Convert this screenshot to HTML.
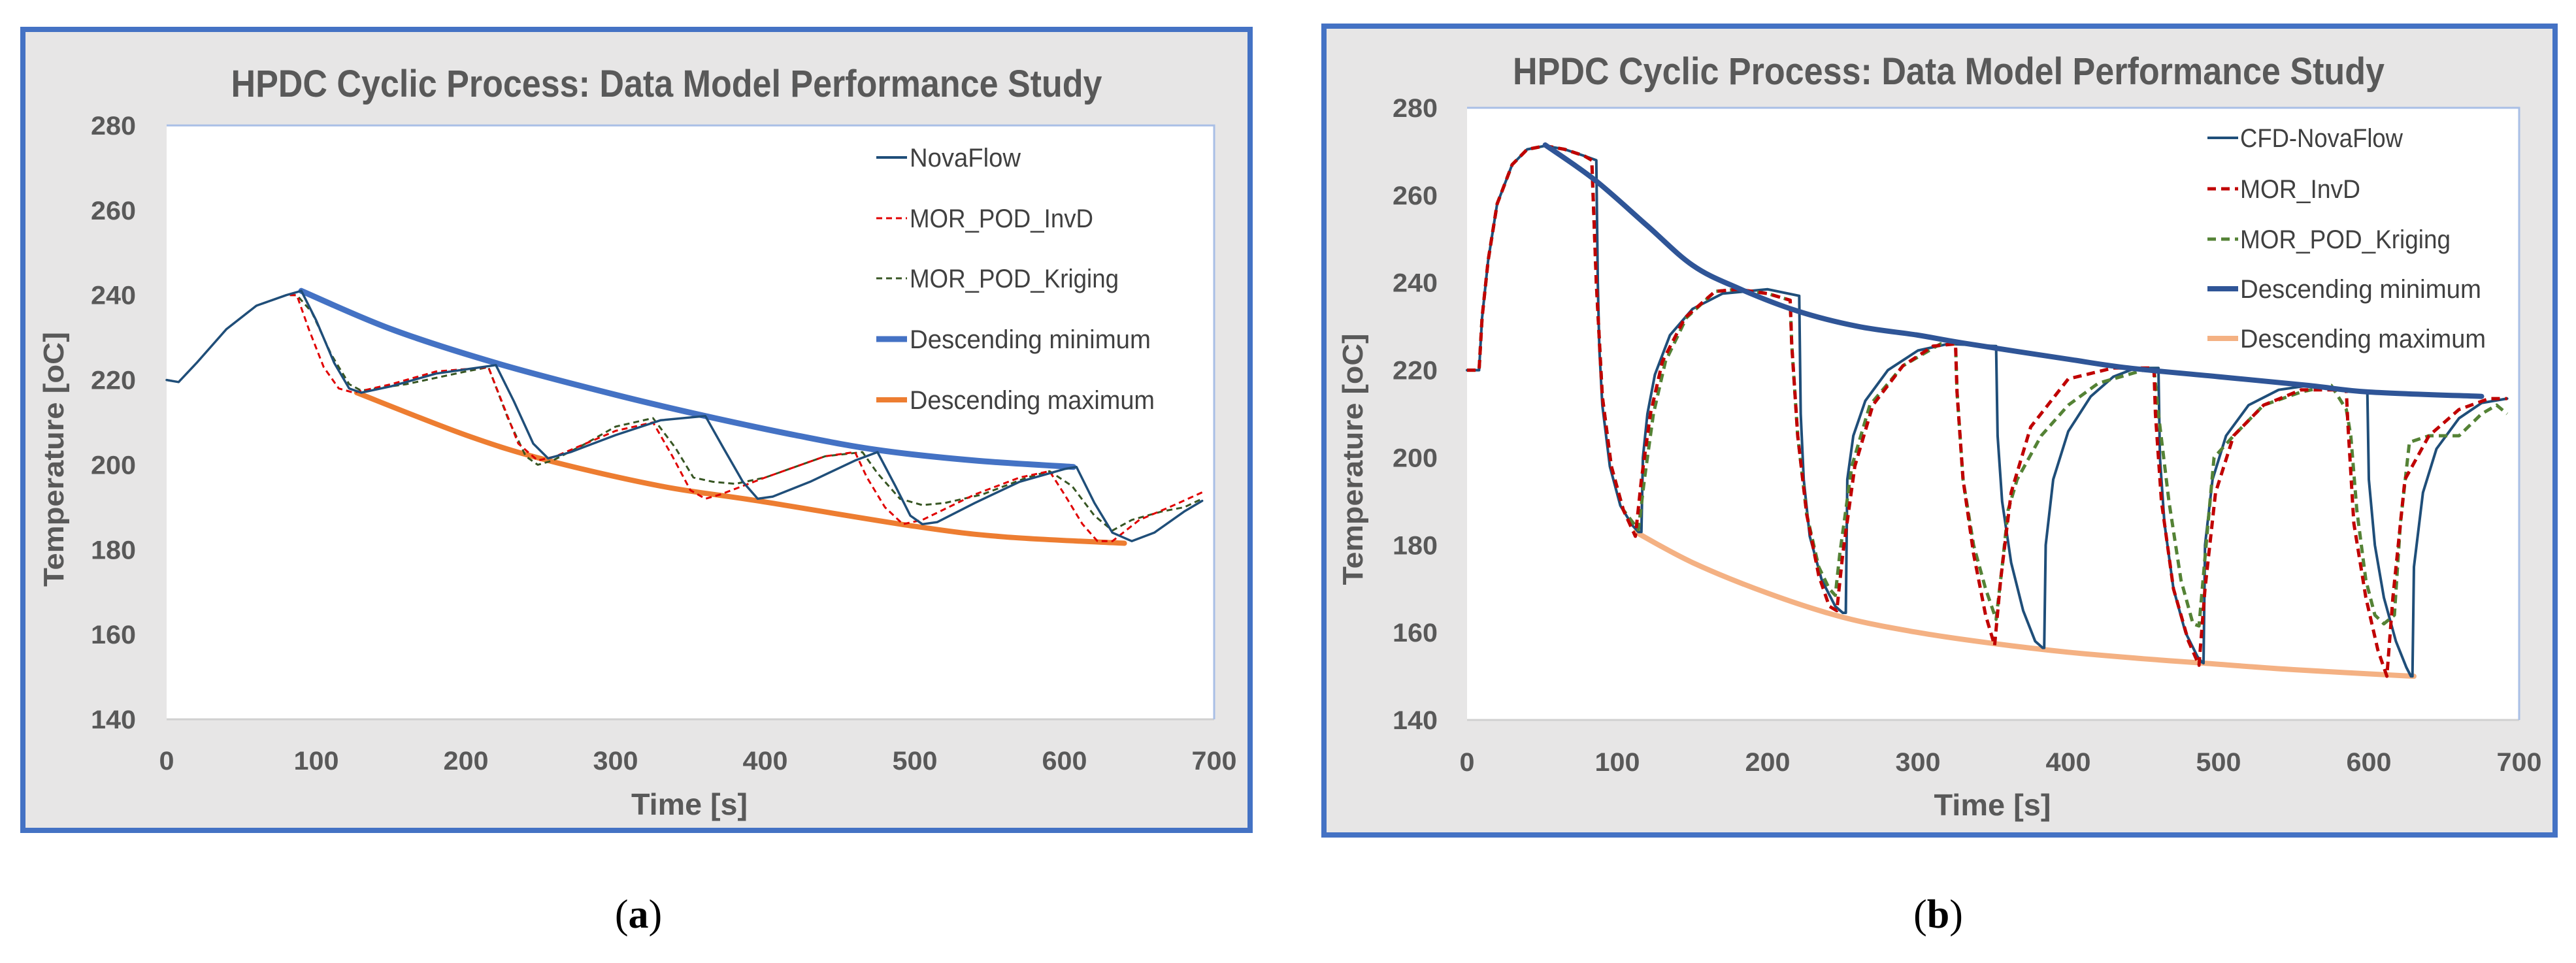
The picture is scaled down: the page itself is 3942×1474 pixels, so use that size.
<!DOCTYPE html>
<html><head><meta charset="utf-8"><style>
html,body{margin:0;padding:0;background:#fff;}
svg{display:block;font-family:"Liberation Sans",sans-serif;}
</style></head><body>
<svg id="root" width="3942" height="1474" viewBox="0 0 3942 1474" xmlns="http://www.w3.org/2000/svg">
<g id="chartA">
  <rect x="35" y="45" width="1878" height="1226" fill="#e7e6e6" stroke="#4472c4" stroke-width="8"/>
  <rect x="255" y="192" width="1603" height="909" fill="#fff"/>
  <path d="M255 1101 H1858" stroke="#d0d0d0" stroke-width="3" fill="none"/>
  <path d="M255 192 H1858 V1101" stroke="#a9bfe6" stroke-width="3" fill="none"/>
  <text x="1020" y="148" text-anchor="middle" font-size="58" font-weight="bold" fill="#595959" textLength="1333" lengthAdjust="spacingAndGlyphs">HPDC Cyclic Process: Data Model Performance Study</text>
  <text transform="translate(97,703) rotate(-90)" text-anchor="middle" font-size="44" font-weight="bold" fill="#595959" textLength="390" lengthAdjust="spacingAndGlyphs">Temperature [oC]</text>
  <text x="1055" y="1247" text-anchor="middle" font-size="46" font-weight="bold" fill="#595959" textLength="178" lengthAdjust="spacingAndGlyphs">Time [s]</text>
  <text x="977" y="1420" text-anchor="middle" font-size="62" fill="#000" font-family="Liberation Serif, serif">(<tspan font-weight="bold">a</tspan>)</text>
</g>
<g id="chartB">
  <rect x="2026" y="40" width="1884" height="1238" fill="#e7e6e6" stroke="#4472c4" stroke-width="8"/>
  <rect x="2245" y="165" width="1610" height="937" fill="#fff"/>
  <path d="M2245 1102 H3855" stroke="#d0d0d0" stroke-width="3" fill="none"/>
  <path d="M2245 165 H3855 V1102" stroke="#a9bfe6" stroke-width="3" fill="none"/>
  <text x="2982" y="129" text-anchor="middle" font-size="58" font-weight="bold" fill="#595959" textLength="1334" lengthAdjust="spacingAndGlyphs">HPDC Cyclic Process: Data Model Performance Study</text>
  <text transform="translate(2085,703) rotate(-90)" text-anchor="middle" font-size="44" font-weight="bold" fill="#595959" textLength="385" lengthAdjust="spacingAndGlyphs">Temperature [oC]</text>
  <text x="3049" y="1248" text-anchor="middle" font-size="46" font-weight="bold" fill="#595959" textLength="179" lengthAdjust="spacingAndGlyphs">Time [s]</text>
  <text x="2966" y="1420" text-anchor="middle" font-size="62" fill="#000" font-family="Liberation Serif, serif">(<tspan font-weight="bold">b</tspan>)</text>
</g>
</svg>
<script>
const xTicks = [0,100,200,300,400,500,600,700];
const yTicks = [140,160,180,200,220,240,260,280];

// Chart (a) data
const aNovaT = [0,8,20,40,60,80,90,100,112,122,130,150,180,210,220,232,245,255,270,300,330,360,372,385,395,405,430,460,475,487,497,505,515,540,570,600,608,620,632,645,660,680,692];
const aNovaV = [220,219.5,224,232,237.5,240,241,234,224,218,217,218.5,221.5,223,223.5,215,205,201.5,203,207,210.5,211.5,204,196,192,192.5,196,201,203,195,188,186,186.5,191,196,199,199.5,191,184,182,184,189,191.5];
const aInvT = [0,8,20,40,60,80,87,95,105,115,125,150,180,215,225,235,248,260,300,325,338,350,360,370,400,440,460,468,480,492,505,540,570,590,600,612,622,632,650,670,692];
const aInvV = [220,219.5,224,232,237.5,240,240,232,223,218,217,219,222,223,214,205,201,202,208,210,202,194,192,193,197,202,203,197,190,186,187,193,197,198.5,193,186,182,182,187,190,193.5];
const aKrgT = [0,8,20,40,60,80,87,97,110,122,130,160,200,215,228,240,248,258,280,300,325,340,352,365,380,400,440,465,475,490,505,520,545,575,590,605,620,632,645,665,680,692];
const aKrgV = [220,219.5,224,232,237.5,240,240,236,226,219,217.5,219,222,223,211,202,200,201,205,209,211,204,197,196,195.5,197,202,203,198,192,190.5,191,193,197,198.5,195,188,184.5,187,189,190,192];
const aMinT = [90,150,220,300,360,420,475,540,606];
const aMinV = [241,232,224,216.5,211.5,207,203.5,201,199.5];
const aMaxT = [127,200,255,330,395,500,560,640];
const aMaxV = [217,207,201,195,191.5,185.5,183,181.5];

// Chart (b) data
const bNovaT = [0,8,10,14,20,30,40,52,65,78,86,87,88,90,95,102,110,114,116,117,120,125,135,150,170,200,221,222,224,228,236,245,250,252,253,257,265,280,300,320,352,353,356,362,370,378,383,384,385,390,400,415,430,445,460,461,464,470,478,486,489,490,491,496,505,520,540,560,599,600,604,610,618,625,628,629,630,636,645,660,675,692];
const bNovaV = [220,220,232,245,258,267,270.5,271.3,270.5,269,268,240,225,212,198,189,184.5,183,183,200,210,219,228,234,237.5,238.5,237,210,195,182,172,166,164.5,164.5,195,205,213,220,224.5,226,225.5,205,190,176,165,158,156.5,156.5,180,195,206,214,218.5,220.5,220.5,200,185,170,160,154.5,153.2,153,180,195,205,212,215.5,216.5,215,195,180,168,158,152,150,150,175,192,202,209,212.5,213.5];
const bInvT = [0,8,10,14,20,30,40,52,65,78,83,86,90,96,104,112,116,122,130,145,165,180,200,215,216,220,226,234,241,246,250,258,270,290,310,325,326,330,337,345,351,355,362,375,400,430,457,458,462,470,480,487,491,498,510,530,555,585,586,590,598,606,612,616,624,640,660,680,692];
const bInvV = [220,220,232,245,258,267,270.5,271.3,270.5,269,268,240,214,198,188,182,195,210,222,232,238,238.5,237.5,236,226,205,187,173,166,165,178,198,212,221,225.5,226,215,195,178,164,157,172,192,207,218,220.5,220.5,210,190,170,158,152.5,170,192,205,212,215.5,215.5,208,185,168,156,150,168,195,205,211,213.5,213.5];
const bKrgT = [0,8,10,14,20,30,40,52,65,78,83,86,90,96,104,114,118,124,132,146,165,180,200,215,216,220,226,234,241,245,248,256,268,290,315,325,326,330,337,345,352,356,360,366,382,400,420,455,457,460,467,475,483,487,493,497,510,530,555,575,585,588,592,598,604,610,617,621,627,640,660,675,685,692];
const bKrgV = [220,220,232,245,258,267,270.5,271.3,270.5,269,268,240,214,198,188,183.5,195,210,222,232,238,238.5,237.5,236,226,205,187,175,170,168.5,178,198,212,221,226,226,215,195,180,170,163,175,188,195,205,212,217,220.5,220.5,210,190,172,162,161.5,185,200,205,212,215,216.5,211,205,188,172,164,162,164,185,203.5,205,205,210,212,210];
const bMinT = [52,85,120,150,180,220,260,300,330,400,440,500,560,600,675];
const bMinV = [271.5,263.5,253,244,238.8,233.5,230,228,226.2,222.5,220.5,218.5,216.5,215,214];
const bMaxT = [112,150,200,250,300,350,400,450,490,550,630];
const bMaxV = [183,176,169,163.5,160,157.5,155.5,154,153,151.5,150];

const NS = 'http://www.w3.org/2000/svg';
function mk(tag, parent) { const e = document.createElementNS(NS, tag); parent.appendChild(e); return e; }

function smoothPath(pts) {
  let d = 'M' + pts[0][0].toFixed(1) + ' ' + pts[0][1].toFixed(1);
  for (let i = 0; i < pts.length - 1; i++) {
    const p0 = pts[Math.max(0, i - 1)], p1 = pts[i], p2 = pts[i + 1], p3 = pts[Math.min(pts.length - 1, i + 2)];
    const c1x = p1[0] + (p2[0] - p0[0]) / 6, c1y = p1[1] + (p2[1] - p0[1]) / 6;
    const c2x = p2[0] - (p3[0] - p1[0]) / 6, c2y = p2[1] - (p3[1] - p1[1]) / 6;
    d += ' C' + c1x.toFixed(1) + ' ' + c1y.toFixed(1) + ' ' + c2x.toFixed(1) + ' ' + c2y.toFixed(1) + ' ' + p2[0].toFixed(1) + ' ' + p2[1].toFixed(1);
  }
  return d;
}

function buildChart(g, px0, px1, py0, py1, prefix, series, legend, tickXr, xLblY) {
  const sx = t => px0 + (t / 700) * (px1 - px0);
  const sy = v => py1 - ((v - 140) / 140) * (py1 - py0);
  yTicks.forEach(v => {
    const t = mk('text', g);
    t.setAttribute('x', tickXr); t.setAttribute('y', sy(v) + 14);
    t.setAttribute('text-anchor', 'end'); t.setAttribute('font-size', '40'); t.setAttribute('font-weight', 'bold'); t.setAttribute('fill', '#595959');
    t.setAttribute('textLength', String(v).length * 23); t.setAttribute('lengthAdjust', 'spacingAndGlyphs');
    t.textContent = v;
    
    
  });
  xTicks.forEach(v => {
    const t = mk('text', g);
    t.setAttribute('x', sx(v)); t.setAttribute('y', xLblY + 14);
    t.setAttribute('text-anchor', 'middle'); t.setAttribute('font-size', '40'); t.setAttribute('font-weight', 'bold'); t.setAttribute('fill', '#595959');
    t.setAttribute('textLength', String(v).length * 23); t.setAttribute('lengthAdjust', 'spacingAndGlyphs');
    t.textContent = v;
    
    
  });
  series.forEach(s => {
    const p = mk('path', g);
    const pts = s.t.map((t, i) => [sx(t), sy(s.v[i])]);
    p.setAttribute('d', s.smooth ? smoothPath(pts) : pts.map((q, i) => (i ? 'L' : 'M') + q[0].toFixed(1) + ' ' + q[1].toFixed(1)).join(' '));
    p.setAttribute('fill', 'none'); p.setAttribute('stroke', s.c); p.setAttribute('stroke-width', s.w);
    p.setAttribute('stroke-linejoin', 'round'); p.setAttribute('stroke-linecap', s.dash ? 'butt' : 'round');
    if (s.dash) p.setAttribute('stroke-dasharray', s.dash);
    
    
  });
  legend.items.forEach((it, i) => {
    const y = legend.ys[i];
    const l = mk('line', g);
    l.setAttribute('x1', legend.lx0); l.setAttribute('x2', legend.lx1); l.setAttribute('y1', y); l.setAttribute('y2', y);
    l.setAttribute('stroke', it.c); l.setAttribute('stroke-width', it.w);
    if (it.dash) l.setAttribute('stroke-dasharray', it.dash);
    
    
    const t = mk('text', g);
    t.setAttribute('x', legend.tx); t.setAttribute('y', y + 14);
    t.setAttribute('font-size', '40'); t.setAttribute('fill', '#404040');
    t.setAttribute('textLength', it.len); t.setAttribute('lengthAdjust', 'spacingAndGlyphs');
    t.textContent = it.label;
    
    
  });
}

buildChart(document.getElementById('chartA'), 255, 1858, 192, 1101, 'chart-a', [
  {t: aMaxT, v: aMaxV, c: '#ed7d31', w: 8, smooth: true, name: 'a-descending-maximum-line'},
  {t: aMinT, v: aMinV, c: '#4472c4', w: 9, smooth: true, name: 'a-descending-minimum-line'},
  {t: aKrgT, v: aKrgV, c: '#375623', w: 3, dash: '9 6', name: 'a-mor-pod-kriging-line'},
  {t: aInvT, v: aInvV, c: '#e00000', w: 3, dash: '9 6', name: 'a-mor-pod-invd-line'},
  {t: aNovaT, v: aNovaV, c: '#1f4e79', w: 3.5, name: 'a-novaflow-line'}
], {lx0: 1341, lx1: 1388, tx: 1392, ys: [241, 334, 426, 519, 612], items: [
  {label: 'NovaFlow', c: '#1f4e79', w: 4, len: 170},
  {label: 'MOR_POD_InvD', c: '#e00000', w: 3, dash: '9 6', len: 281},
  {label: 'MOR_POD_Kriging', c: '#375623', w: 3, dash: '9 6', len: 320},
  {label: 'Descending minimum', c: '#4472c4', w: 9, len: 369},
  {label: 'Descending maximum', c: '#ed7d31', w: 8, len: 375}
]}, 208, 1164);

buildChart(document.getElementById('chartB'), 2245, 3855, 165, 1102, 'chart-b', [
  {t: bMaxT, v: bMaxV, c: '#f4b183', w: 8, smooth: true, name: 'b-descending-maximum-line'},
  {t: bNovaT, v: bNovaV, c: '#1f4e79', w: 4, name: 'b-cfd-novaflow-line'},
  {t: bKrgT, v: bKrgV, c: '#548235', w: 5, dash: '13 8', name: 'b-mor-pod-kriging-line'},
  {t: bInvT, v: bInvV, c: '#c00000', w: 5, dash: '13 8', name: 'b-mor-invd-line'},
  {t: bMinT, v: bMinV, c: '#2f5597', w: 8, smooth: true, name: 'b-descending-minimum-line'}
], {lx0: 3378, lx1: 3425, tx: 3428, ys: [211, 289, 366, 442, 518], items: [
  {label: 'CFD-NovaFlow', c: '#1f4e79', w: 4, len: 249},
  {label: 'MOR_InvD', c: '#c00000', w: 5, dash: '13 8', len: 184},
  {label: 'MOR_POD_Kriging', c: '#548235', w: 5, dash: '13 8', len: 322},
  {label: 'Descending minimum', c: '#2f5597', w: 8, len: 369},
  {label: 'Descending maximum', c: '#f4b183', w: 8, len: 376}
]}, 2200, 1166);
</script>
</body></html>
